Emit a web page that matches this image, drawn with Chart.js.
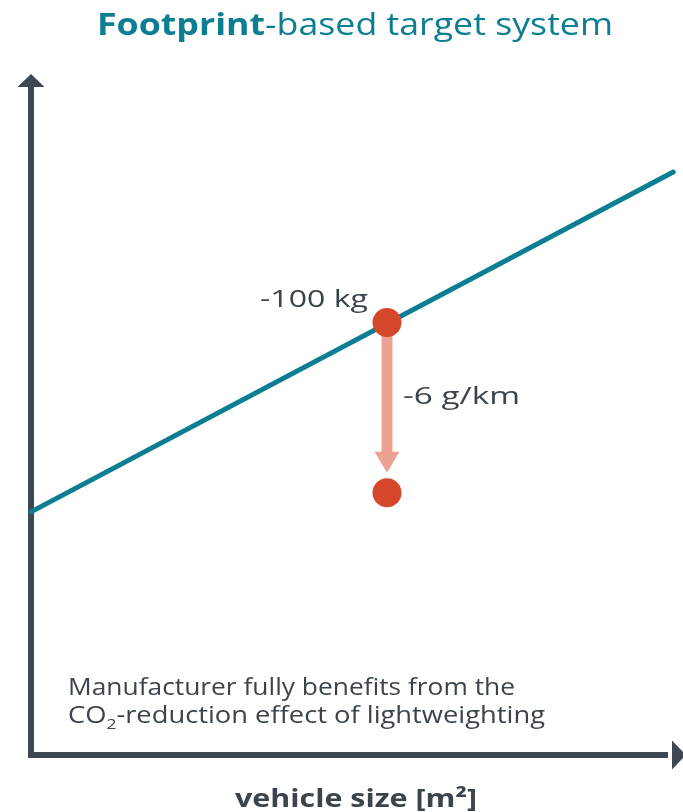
<!DOCTYPE html>
<html>
<head>
<meta charset="utf-8">
<script src="https://cdn.jsdelivr.net/npm/chart.js@4"></script>
<style>
  body { margin: 0; background: #fff; }
  canvas { display: block; }
</style>
</head>
<body>
<canvas id="footprintChart" width="683" height="812"></canvas>
<script>
// Schematic values (axes run 0..100, no ticks shown)
const sizes = [0, 98.5];          // vehicle size along the target line
const targets = [35.7, 85.6];     // CO2 target line
const carSize = [54.6, 54.6];     // the car before / after lightweighting
const carCO2 = [63.5, 38.5];
const massLabel = '-100 kg';
const co2Label = '-6 g/km';
const titleBold = 'Footprint';
const titleRest = '-based target system';
const xTitle = 'vehicle size [m²]';
const noteLines = ['Manufacturer fully benefits from the', 'CO|2|-reduction effect of lightweighting'];

const TEAL = '#0b7f91';
const AXIS = '#3d4853';
const DOT = '#d5472a';
const ARROW = '#eca292';
const TEXT = '#3b444d';
const FONT = '"Open Sans", "Noto Sans", sans-serif';

// the original typeface is wider than Open Sans, so stretch text horizontally
function wideText(ctx, text, x, y, sx) {
    ctx.save();
    ctx.translate(x, y);
    ctx.scale(sx, 1);
    ctx.fillText(text, 0, 0);
    ctx.restore();
}

// Draw axes with arrowheads, the drop arrow and all the labels
const sketchPlugin = {
    id: 'sketch',
    beforeDatasetsDraw(chart) {
        const { ctx, chartArea: a } = chart;
        ctx.save();
        ctx.fillStyle = AXIS;
        // y axis
        ctx.fillRect(a.left - 3, a.top + 12, 6, a.bottom - a.top - 12 + 3);
        ctx.beginPath();
        ctx.moveTo(a.left, a.top);
        ctx.lineTo(a.left + 13.5, a.top + 13);
        ctx.lineTo(a.left - 13.5, a.top + 13);
        ctx.closePath();
        ctx.fill();
        // x axis
        ctx.fillRect(a.left - 3, a.bottom - 3, a.right - 12 - a.left, 6);
        ctx.beginPath();
        ctx.moveTo(a.right + 3, a.bottom);
        ctx.lineTo(a.right - 11, a.bottom - 14.5);
        ctx.lineTo(a.right - 11, a.bottom + 14.5);
        ctx.closePath();
        ctx.fill();

        // arrow from the car before to the car after
        const xs = chart.scales.x, ys = chart.scales.y;
        const px = xs.getPixelForValue(carSize[0]);
        const y0 = ys.getPixelForValue(carCO2[0]);
        const y1 = ys.getPixelForValue(carCO2[1]);
        const tip = y1 - 20;
        ctx.fillStyle = ARROW;
        ctx.fillRect(px - 5.5, y0, 11, tip - 21 - y0 + 1);
        ctx.beginPath();
        ctx.moveTo(px, tip);
        ctx.lineTo(px - 12.5, tip - 21);
        ctx.lineTo(px + 12.5, tip - 21);
        ctx.closePath();
        ctx.fill();
        ctx.restore();
    },
    afterDraw(chart) {
        const { ctx, chartArea: a } = chart;
        const xs = chart.scales.x, ys = chart.scales.y;
        const px = xs.getPixelForValue(carSize[0]);
        const y0 = ys.getPixelForValue(carCO2[0]);
        const y1 = ys.getPixelForValue(carCO2[1]);
        ctx.save();
        ctx.textAlign = 'left';
        ctx.textBaseline = 'alphabetic';

        // title, 97..613 px wide in the reference
        ctx.fillStyle = TEAL;
        ctx.font = '700 31px ' + FONT;
        const wb = ctx.measureText(titleBold).width;
        ctx.font = '400 31px ' + FONT;
        const wr = ctx.measureText(titleRest).width;
        const ts = 516 / (wb + wr);
        const tx = 97;
        ctx.font = '700 31px ' + FONT;
        wideText(ctx, titleBold, tx, 35, ts);
        ctx.font = '400 31px ' + FONT;
        wideText(ctx, titleRest, tx + wb * ts, 35, ts);

        // point labels
        ctx.fillStyle = TEXT;
        ctx.font = '400 23px ' + FONT;
        let w = ctx.measureText(massLabel).width;
        wideText(ctx, massLabel, px - 19 - 108, y0 - 16, 108 / w);
        ctx.textBaseline = 'middle';
        w = ctx.measureText(co2Label).width;
        wideText(ctx, co2Label, px + 16, (y0 + y1) / 2 - 10, 117 / w);

        // note with subscript, lines 447 and 477 px wide
        ctx.textBaseline = 'alphabetic';
        ctx.font = '400 23.5px ' + FONT;
        const nx0 = a.left + 37;
        wideText(ctx, noteLines[0], nx0, 695, 447 / ctx.measureText(noteLines[0]).width);
        const parts = noteLines[1].split('|');
        const w0 = ctx.measureText(parts[0]).width;
        const w2 = ctx.measureText(parts[2]).width;
        ctx.font = '400 15px ' + FONT;
        const w1 = ctx.measureText(parts[1]).width;
        const ns = 477 / (w0 + w1 + w2);
        let nx = nx0;
        ctx.font = '400 23.5px ' + FONT;
        wideText(ctx, parts[0], nx, 723, ns);
        nx += w0 * ns;
        ctx.font = '400 15px ' + FONT;
        wideText(ctx, parts[1], nx, 729, ns);
        nx += w1 * ns;
        ctx.font = '400 23.5px ' + FONT;
        wideText(ctx, parts[2], nx, 723, ns);

        // x axis title, 235..477 px
        ctx.font = '700 25px ' + FONT;
        w = ctx.measureText(xTitle).width;
        wideText(ctx, xTitle, 235, 807, 242 / w);
        ctx.restore();
    }
};

new Chart(document.getElementById('footprintChart'), {
    type: 'scatter',
    data: {
        datasets: [
            {
                data: sizes.map((s, i) => ({ x: s, y: targets[i] })),
                showLine: true,
                borderColor: TEAL,
                borderWidth: 5,
                borderCapStyle: 'round',
                pointRadius: 0,
                clip: false,
                order: 2
            },
            {
                data: carSize.map((s, i) => ({ x: s, y: carCO2[i] })),
                showLine: false,
                pointRadius: 14.5,
                pointBackgroundColor: DOT,
                pointBorderWidth: 0,
                clip: false,
                order: 1
            }
        ]
    },
    options: {
        responsive: false,
        animation: false,
        layout: { autoPadding: false, padding: { left: 31, top: 74, right: 0, bottom: 57 } },
        scales: {
            x: { display: false, min: 0, max: 100 },
            y: { display: false, min: 0, max: 100 }
        },
        plugins: {
            legend: { display: false },
            tooltip: { enabled: false }
        }
    },
    plugins: [sketchPlugin]
});
</script>
</body>
</html>
